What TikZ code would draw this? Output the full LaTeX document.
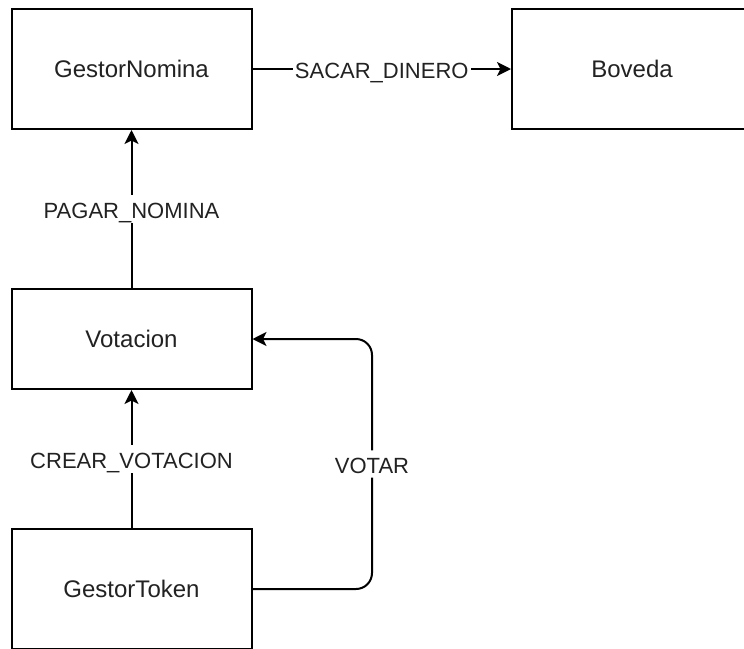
\documentclass[tikz,border=0pt]{standalone}
\usepackage{fontspec}
\setmainfont{Liberation Sans}
\usetikzlibrary{arrows.meta}
\definecolor{ink}{HTML}{222222}
\begin{document}
\begin{tikzpicture}[x=1pt,y=-1pt,
  box/.style={draw=black,line width=2pt,fill=white,minimum width=240pt,
    inner sep=0pt,text=ink,font=\fontsize{24}{28}\selectfont},
  conn/.style={draw=black,line width=2pt,
    -{Stealth[length=14pt,width=14pt,inset=3.5pt]}},
  lbl/.style={fill=white,text=ink,inner sep=2pt,text height=21pt,text depth=2.2pt,
    font=\fontsize{22}{26}\selectfont}]
  \useasboundingbox (0,0) rectangle (744,648);
  \clip (0,0) rectangle (744,648);
  % components
  \node[box,minimum height=120pt] (gn) at (131.5,69) {GestorNomina};
  \node[box,minimum height=120pt] (bv) at (632,69) {Boveda};
  \node[box,minimum height=100pt] (vo) at (131.5,339) {Votacion};
  \node[box,minimum height=120pt] (gt) at (131.5,589) {GestorToken};
  \coordinate (bend) at (372,339);
  % calls between components
  \draw[conn] (gn.east) -- node[lbl] {SACAR\_DINERO} (bv.west);
  \draw[conn] (vo.north) -- node[lbl] {PAGAR\_NOMINA} (gn.south);
  \draw[conn] (gt.north) -- node[lbl] {CREAR\_VOTACION} (vo.south);
  \draw[conn,rounded corners=16pt] (gt.east) -| node[lbl,pos=0.75] {VOTAR} (bend) -- (vo.east);
\end{tikzpicture}
\end{document}
